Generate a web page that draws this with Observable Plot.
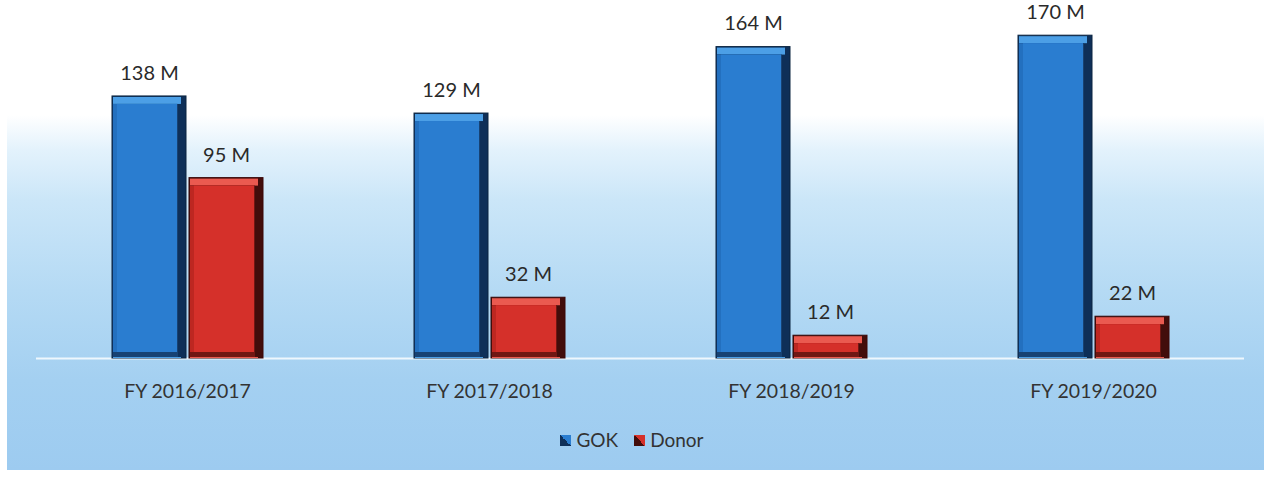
<!DOCTYPE html>
<html>
<head>
<meta charset="utf-8">
<script src="https://cdn.jsdelivr.net/npm/d3@7"></script>
<script src="https://cdn.jsdelivr.net/npm/@observablehq/plot@0.6"></script>
<style>
  html, body { margin: 0; padding: 0; background: #fff; }
  #wrap { position: relative; width: 1264px; height: 478px; overflow: hidden; background: #fff; font-family: Lato, "Open Sans", sans-serif; }
  #bg { position: absolute; left: 7px; top: 0; width: 1257px; height: 470px;
        background: linear-gradient(to bottom, #ffffff 0px, #ffffff 115px, #e3f2fc 150px, #cbe6f8 200px, #b5daf4 290px, #a4d0f1 380px, #9dcbf0 470px); }
  #chart { position: absolute; left: 0; top: 0; }
  #legend { position: absolute; left: 0; top: 428px; width: 1264px; text-align: center; font-size: 19px; color: #333; }
  #legend span.item { display: inline-block; margin: 0 8px; }
  #legend span.sw { display: inline-block; width: 11px; height: 11px; margin-right: 5px; vertical-align: 1px; }
</style>
</head>
<body>
<div id="wrap">
  <div id="bg"></div>
  <div id="chart"></div>
  <div id="legend"></div>
</div>
<script>
const years = ["FY 2016/2017", "FY 2017/2018", "FY 2018/2019", "FY 2019/2020"];
const series = ["GOK", "Donor"];
const gokValues = [138, 129, 164, 170];
const donorValues = [95, 32, 12, 22];

const palette = {
  GOK:   {outline: "#0a2440", right: "#0e2f58", top: "#4c9fe6", bottom: "#174273", left: "#2370bf", face: "#2a7dd0"},
  Donor: {outline: "#3a0808", right: "#420d0b", top: "#ea5a50", bottom: "#701713", left: "#bd2721", face: "#d5302a"}
};

const data = [];
years.forEach((y, i) => {
  data.push({year: y, series: "GOK", value: gokValues[i]});
  data.push({year: y, series: "Donor", value: donorValues[i]});
});

function barLayers(s) {
  const d = data.filter(r => r.series === s);
  const c = palette[s];
  const base = {x: "series", fx: "year", y: "value"};
  return [
    Plot.barY(d, {...base, fill: c.right, stroke: c.outline, strokeWidth: 1}),
    Plot.barY(d, {...base, fill: c.top, insetTop: 1, insetLeft: 1, insetRight: 5}),
    Plot.barY(d, {...base, fill: c.right, insetTop: 8, insetRight: 1, insetBottom: 1}),
    Plot.barY(d, {...base, fill: c.bottom, insetTop: 8, insetLeft: 1, insetRight: 8, insetBottom: 1}),
    Plot.barY(d, {...base, fill: c.left, insetTop: 8, insetLeft: 1, insetRight: 9, insetBottom: 6}),
    Plot.barY(d, {...base, fill: c.face, insetTop: 8, insetLeft: 5, insetRight: 9, insetBottom: 6})
  ];
}

const chart = Plot.plot({
  width: 1264,
  height: 420,
  marginLeft: 35,
  marginRight: 19,
  marginTop: 20,
  marginBottom: 62,
  style: {background: "transparent", fontFamily: "Lato, 'Open Sans', sans-serif", fontSize: "18px", color: "#333"},
  fx: {domain: years, padding: 0, label: null},
  x: {domain: series, paddingInner: 0.04, paddingOuter: 0.96, axis: null},
  y: {domain: [0, 178], axis: null},
  marks: [
    Plot.ruleY([0], {stroke: "#eef7fd", strokeWidth: 2, facet: "exclude"}),
    ...barLayers("GOK"),
    ...barLayers("Donor"),
    Plot.text(data, {x: "series", fx: "year", y: "value", text: d => d.value + " M", dy: -23, fontSize: 20, fill: "#2a2a2a"}),
    Plot.axisFx({anchor: "bottom", tickSize: 0, tickPadding: 26, fontSize: 19.5, fill: "#333", label: null})
  ]
});
document.getElementById("chart").appendChild(chart);

const legend = document.getElementById("legend");
series.forEach(s => {
  const c = palette[s];
  const item = document.createElement("span");
  item.className = "item";
  const sw = document.createElement("span");
  sw.className = "sw";
  sw.style.background = `linear-gradient(to top right, ${c.right} 50%, ${c.face} 50%)`;
  item.appendChild(sw);
  item.appendChild(document.createTextNode(s));
  legend.appendChild(item);
});
</script>
</body>
</html>
